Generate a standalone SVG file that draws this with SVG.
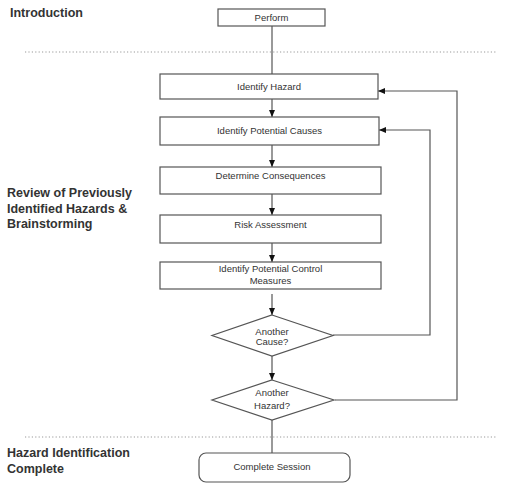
<svg xmlns="http://www.w3.org/2000/svg" width="507" height="489" viewBox="0 0 507 489">
<defs>
<marker id="ah" markerWidth="8" markerHeight="8" refX="7" refY="4" orient="auto" markerUnits="userSpaceOnUse">
<path d="M0,1 L7,4 L0,7 Z" fill="#111"/>
</marker>
<style>
.box{fill:#fff;stroke:#555;stroke-width:1.2}
.t{font-family:"Liberation Sans",Arial,sans-serif;font-size:9.5px;fill:#333;text-anchor:middle}
.h{font-family:"Liberation Sans",Arial,sans-serif;font-size:12.5px;font-weight:bold;fill:#333}
.c{fill:none;stroke:#555;stroke-width:1.2}
.dot{stroke:#999;stroke-width:1;stroke-dasharray:1.2,2.2}
</style>
</defs>
<rect width="507" height="489" fill="#fff"/>
<g id="labels">
<text class="h" x="10" y="17">Introduction</text>
<text class="h" x="7" y="197">Review of Previously</text>
<text class="h" x="7" y="212.5">Identified Hazards &amp;</text>
<text class="h" x="7" y="228">Brainstorming</text>
<text class="h" x="7" y="457">Hazard Identification</text>
<text class="h" x="7" y="473">Complete</text>
</g>
<g id="separators">
<line class="dot" x1="25" y1="52" x2="497" y2="52"/>
<line class="dot" x1="25" y1="437" x2="497" y2="437"/>
</g>
<g id="connectors">
<line class="c" x1="272" y1="26" x2="272" y2="74"/>
<line class="c" x1="272" y1="99" x2="272" y2="117" marker-end="url(#ah)"/>
<line class="c" x1="272" y1="145" x2="272" y2="167" marker-end="url(#ah)"/>
<line class="c" x1="272" y1="194" x2="272" y2="215" marker-end="url(#ah)"/>
<line class="c" x1="272" y1="243" x2="272" y2="262" marker-end="url(#ah)"/>
<line class="c" x1="272" y1="294" x2="272" y2="315" marker-end="url(#ah)"/>
<line class="c" x1="272" y1="356" x2="272" y2="380" marker-end="url(#ah)"/>
<line class="c" x1="272" y1="420" x2="272" y2="453"/>
<polyline class="c" points="333,335 430,335 430,130 379,130" marker-end="url(#ah)"/>
<polyline class="c" points="335,400 457,400 457,91 378,91" marker-end="url(#ah)"/>
</g>
<g id="perform">
<rect class="box" x="218" y="9" width="107" height="17"/>
<text class="t" x="271.5" y="20.5">Perform</text>
</g>
<g id="identify-hazard">
<rect class="box" x="160" y="74" width="218" height="25"/>
<text class="t" x="269" y="89.5">Identify Hazard</text>
</g>
<g id="identify-causes">
<rect class="box" x="160" y="117" width="219" height="28"/>
<text class="t" x="269.5" y="134">Identify Potential Causes</text>
</g>
<g id="consequences">
<rect class="box" x="160" y="167" width="221" height="27"/>
<text class="t" x="270.5" y="179">Determine Consequences</text>
</g>
<g id="risk">
<rect class="box" x="160" y="215" width="221" height="28"/>
<text class="t" x="270.5" y="228">Risk Assessment</text>
</g>
<g id="control">
<rect class="box" x="160" y="262" width="221" height="27"/>
<text class="t" x="270.5" y="272">Identify Potential Control</text>
<text class="t" x="270.5" y="284">Measures</text>
</g>
<g id="another-cause">
<polygon class="box" points="272,315 333,335.5 272,356 212,335.5"/>
<text class="t" x="272" y="335">Another</text>
<text class="t" x="272" y="345">Cause?</text>
</g>
<g id="another-hazard">
<polygon class="box" points="272,380 334,400 272,420 212,400"/>
<text class="t" x="272" y="396">Another</text>
<text class="t" x="272" y="409">Hazard?</text>
</g>
<g id="complete">
<rect class="box" x="199" y="453" width="151" height="29" rx="7" ry="7"/>
<text class="t" x="272" y="470">Complete Session</text>
</g>
</svg>
